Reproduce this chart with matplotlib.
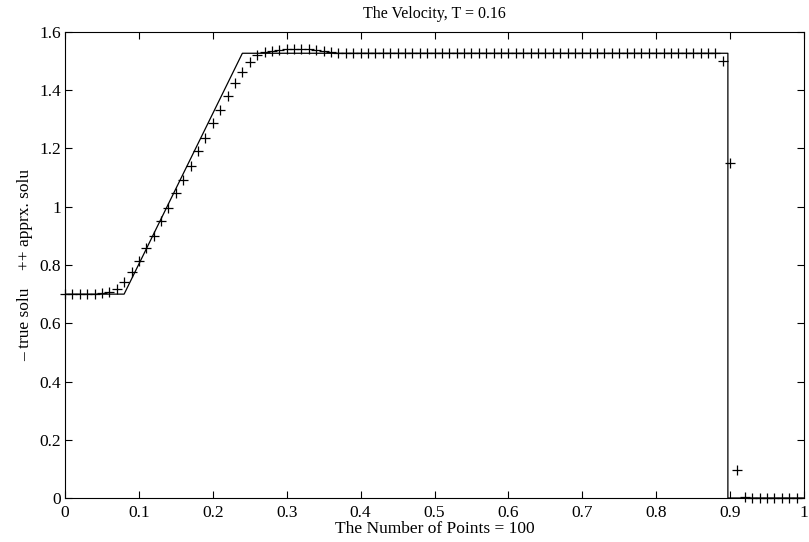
import numpy as np
import matplotlib
matplotlib.use('Agg')
import matplotlib.pyplot as plt

plt.rcParams['font.family'] = ['Liberation Serif', 'DejaVu Serif']

# true solution (break points)
true_x = [0.0, 0.08, 0.24, 0.897, 0.897, 1.0]
true_y = [0.70, 0.70, 1.527, 1.527, 0.0, 0.0]

# approximate solution, 100 points at x = 0, 0.01, ..., 0.99
approx_x = np.arange(100) * 0.01
approx_y = ([0.700, 0.700, 0.700, 0.700, 0.701, 0.703, 0.706, 0.716, 0.740, 0.775,
             0.815, 0.857, 0.900, 0.951, 0.997, 1.046, 1.092, 1.140, 1.193, 1.237,
             1.287, 1.332, 1.380, 1.424, 1.464, 1.496, 1.521, 1.532, 1.536, 1.539,
             1.540, 1.541, 1.541, 1.540, 1.538, 1.535, 1.531, 1.529]
            + [1.527] * 51
            + [1.500, 1.149, 0.096]
            + [0.002] + [0.0] * 7)

xticks = np.arange(0, 1.01, 0.1)
xtick_labels = ['0', '0.1', '0.2', '0.3', '0.4', '0.5', '0.6', '0.7', '0.8', '0.9', '1']
yticks = np.arange(0, 1.61, 0.2)
ytick_labels = ['0', '0.2', '0.4', '0.6', '0.8', '1', '1.2', '1.4', '1.6']

fig = plt.figure(figsize=(8.09, 5.42), dpi=100)
ax = fig.add_axes([65 / 809, 1 - 498 / 542, 739 / 809, 466 / 542])

ax.plot(true_x, true_y, color='black', linewidth=0.9)
ax.plot(approx_x, approx_y, linestyle='none', marker='+', color='black',
        markersize=7, markeredgewidth=0.9, clip_on=False)

ax.set_xlim(0, 1)
ax.set_ylim(0, 1.6)
ax.set_xticks(xticks)
ax.set_xticklabels(xtick_labels)
ax.set_yticks(yticks)
ax.set_yticklabels(ytick_labels)
ax.tick_params(direction='in', top=True, right=True, length=5, width=0.8,
               labelsize=12.5)
ax.tick_params(axis='x', pad=5)
ax.tick_params(axis='y', pad=3)
for s in ax.spines.values():
    s.set_linewidth(0.8)

ax.set_title('The Velocity, T = 0.16', fontsize=11.5, pad=10)
ax.set_xlabel('The Number of Points = 100', fontsize=12.5, labelpad=0)
ax.set_ylabel('\u2013 true solu    ++ apprx. solu', fontsize=12.5, labelpad=4)

fig.savefig('out.png', dpi=100)
